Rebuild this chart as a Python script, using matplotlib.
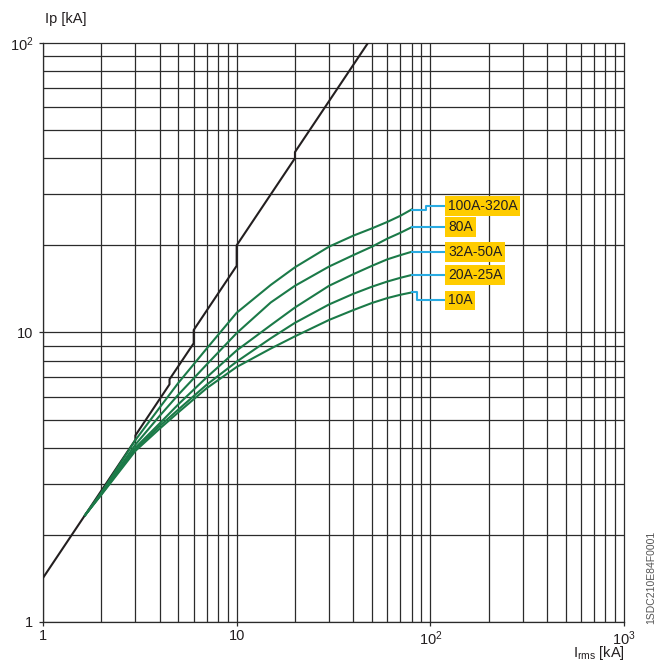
import numpy as np
import matplotlib
matplotlib.use('Agg')
import matplotlib.pyplot as plt

plt.rcParams['font.family'] = ['Liberation Sans', 'DejaVu Sans']
plt.rcParams['mathtext.fontset'] = 'custom'
plt.rcParams['mathtext.rm'] = 'Liberation Sans'
plt.rcParams['mathtext.it'] = 'Liberation Sans'
plt.rcParams['mathtext.default'] = 'regular'

# кривая предельного пикового тока (Ip = n * Irms)
irms_limit = [1, 3, 3, 4.5, 4.5, 6, 6, 10, 10, 20, 20, 50]
ip_limit = [1.42, 4.26, 4.41, 6.62, 6.89, 9.18, 10.2, 17.0, 20.0, 40.0, 42.0, 105.0]

# кривые ограничения тока
irms = [1.65, 2, 3, 4, 5, 7, 10, 15, 20, 30, 40, 50, 60, 70, 80]
ip_100_320 = [2.34, 2.8, 4.25, 5.5, 6.7, 8.8, 11.7, 14.6, 16.8, 19.8, 21.6, 22.9, 24.1, 25.3, 26.6]
ip_80 = [2.34, 2.78, 4.1, 5.15, 6.1, 7.75, 9.95, 12.7, 14.5, 16.9, 18.5, 19.8, 21.1, 22.1, 23.1]
ip_32_50 = [2.34, 2.77, 4.0, 4.85, 5.65, 7.0, 8.67, 10.6, 12.2, 14.5, 15.9, 17.0, 17.9, 18.5, 19.0]
ip_20_25 = [2.34, 2.76, 3.95, 4.75, 5.42, 6.6, 7.93, 9.55, 10.8, 12.5, 13.6, 14.4, 15.0, 15.45, 15.8]
ip_10 = [2.34, 2.75, 3.9, 4.65, 5.3, 6.42, 7.6, 8.8, 9.7, 11.05, 11.95, 12.65, 13.15, 13.5, 13.75]

labels = ['100A-320A', '80A', '32A-50A', '20A-25A', '10A']
label_y = [27.4, 23.1, 19.0, 15.8, 12.9]
curves = [ip_100_320, ip_80, ip_32_50, ip_20_25, ip_10]

fig = plt.figure(figsize=(6.7, 6.64), dpi=100)
ax = fig.add_axes([0.0642, 0.0633, 0.8671, 0.8719])
ax.set_xscale('log')
ax.set_yscale('log')
ax.set_xlim(1, 1000)
ax.set_ylim(1, 100)

# сетка
for d in [1, 10, 100]:
    for k in range(1, 10):
        ax.axvline(d * k, color='#2b2b2b', lw=0.9, zorder=1)
for d in [1, 10]:
    for k in range(1, 10):
        ax.axhline(d * k, color='#2b2b2b', lw=0.9, zorder=1)
for s in ax.spines.values():
    s.set_color('#2b2b2b')
    s.set_linewidth(0.9)

ax.plot(irms_limit, ip_limit, color='#231f20', lw=1.5, zorder=3)

green = '#1b7a48'
cyan = '#29abe2'
x_end = irms[-1]
x_lab = 121
for c, lab, ly in zip(curves, labels, label_y):
    ax.plot(irms, c, color=green, lw=1.5, zorder=3)
    y_end = c[-1]
    if abs(ly - y_end) / y_end > 0.02:
        x_mid = 95.3 if ly > y_end else 85.7
        ax.plot([x_end, x_mid, x_mid, x_lab], [y_end, y_end, ly, ly],
                color=cyan, lw=1.5, zorder=3)
    else:
        ax.plot([x_end, x_lab], [y_end, y_end], color=cyan, lw=1.5, zorder=3)
    ax.text(x_lab * 1.02, ly, lab, fontsize=10, va='center', ha='left',
            color='#231f20', zorder=5,
            bbox=dict(boxstyle='square,pad=0.2', fc='#ffcc00', ec='none'))

ax.set_xticks([1, 10, 100, 1000])
ax.set_xticklabels(['1', '10', '$10^2$', '$10^3$'])
ax.set_yticks([1, 10, 100])
ax.set_yticklabels(['1', '10', '$10^2$'])
ax.minorticks_off()
ax.tick_params(axis='both', length=3, width=0.9, color='#2b2b2b',
               labelsize=10.5, labelcolor='#231f20')
ax.tick_params(axis='x', pad=2)
ax.tick_params(axis='y', pad=4)

fig.text(0.067, 0.972, 'Ip [kA]', fontsize=10.5, ha='left', va='center',
         color='#231f20')
fig.text(0.933, 0.016, 'I$_{rms}$ [kA]', fontsize=10.5, ha='right',
         va='center', color='#231f20')
fig.text(0.972, 0.13, '1SDC210E84F0001', fontsize=7.5, rotation=90,
         ha='center', va='center', color='#555555')

fig.savefig('out.png', dpi=100)
